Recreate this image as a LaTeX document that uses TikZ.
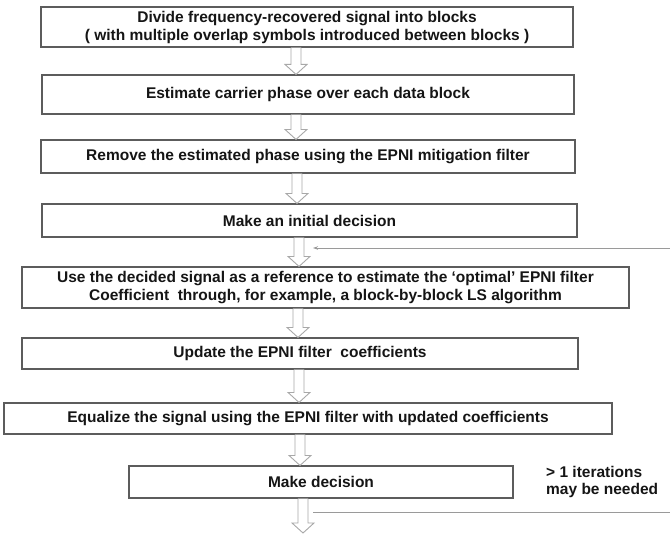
\documentclass[tikz,border=0pt]{standalone}
\usepackage{fontspec}
\setmainfont{Liberation Sans}
\usetikzlibrary{arrows.meta,calc}
\definecolor{boxline}{HTML}{5C5C5C}
\definecolor{arrowgray}{HTML}{A8A8A8}
\definecolor{fbgray}{HTML}{9A9A9A}
\definecolor{txt}{HTML}{151515}
\newcommand\hollowarrow[3]{%
  \filldraw[harrow] let \p1=(#2.south), \p2=(#3.north), \p3=(#1,0) in
   ({\x3-5pt},\y1) -- ({\x3-5pt},{\y2+10pt}) -- ({\x3-11pt},{\y2+10pt}) -- (\x3,\y2)
   -- ({\x3+11pt},{\y2+10pt}) -- ({\x3+5pt},{\y2+10pt}) -- ({\x3+5pt},\y1);}
\begin{document}
\begin{tikzpicture}[x=1pt,y=-1pt,
  box/.style={draw=boxline, line width=1.1pt, fill=white, inner sep=0pt, align=center,
    font=\fontsize{15.5}{18}\selectfont\bfseries, text=txt},
  harrow/.style={draw=arrowgray, line width=0.9pt, fill=white, line join=miter},
  fb/.style={draw=fbgray, line width=0.9pt},
  note/.style={font=\fontsize{15.5}{17}\selectfont\bfseries, text=txt, align=left, inner sep=0pt}]
\useasboundingbox (0,0) rectangle (670,535);
\node[box, minimum width=532pt, minimum height=40pt] (b1) at (307,27)
  {Divide frequency-recovered signal into blocks\\( with multiple overlap symbols introduced between blocks )};
\node[box, minimum width=532pt, minimum height=39pt] (b2) at (308,94.5)
  {Estimate carrier phase over each data block};
\node[box, minimum width=534pt, minimum height=33pt] (b3) at (308,156.5)
  {Remove the estimated phase using the EPNI mitigation filter};
\node[box, minimum width=535pt, minimum height=33pt] (b4) at (309.5,220.5)
  {Make an initial decision};
\node[box, minimum width=607pt, minimum height=41pt] (b5) at (325.5,287.5)
  {Use the decided signal as a reference to estimate the ‘optimal’ EPNI filter\\Coefficient~ through, for example, a block-by-block LS algorithm};
\node[box, minimum width=556pt, minimum height=31pt] (b6) at (300,353.5)
  {Update the EPNI filter~ coefficients};
\node[box, minimum width=608pt, minimum height=31pt] (b7) at (308,418.5)
  {Equalize the signal using the EPNI filter with updated coefficients};
\node[box, minimum width=384pt, minimum height=32pt] (b8) at (321,482)
  {Make decision};
\node[note, anchor=west] (iter) at (546,482) {> 1 iterations\\may be needed};
\coordinate (end) at (303,533);
\hollowarrow{296}{b1}{b2}
\hollowarrow{296}{b2}{b3}
\hollowarrow{297}{b3}{b4}
\hollowarrow{299}{b4}{b5}
\hollowarrow{298}{b5}{b6}
\hollowarrow{299}{b6}{b7}
\hollowarrow{300}{b7}{b8}
\hollowarrow{303}{b8}{end}
\coordinate (fbS) at (670,248);
\coordinate (fbE) at (313,248);
\draw[fb, -{Stealth[length=5pt,width=3.5pt]}] (fbS) -- (fbE);
\coordinate (lpS) at (313,512);
\coordinate (lpE) at (670,512);
\draw[fb] (lpS) -- (lpE);
\end{tikzpicture}
\end{document}
